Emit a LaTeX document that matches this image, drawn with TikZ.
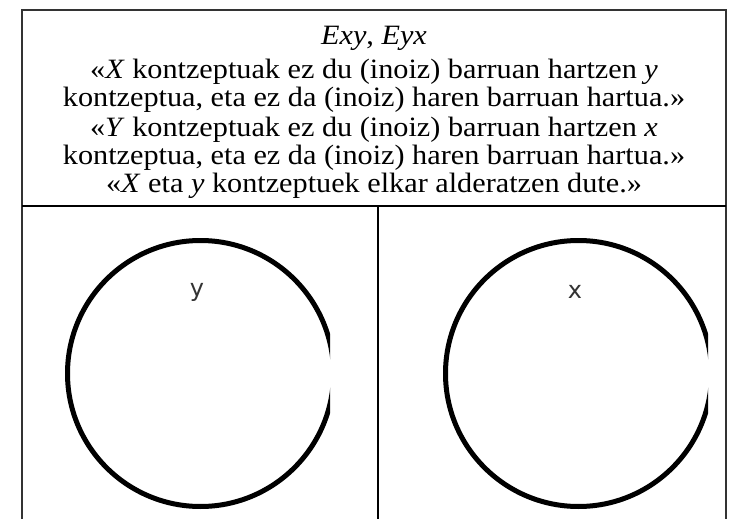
\documentclass[tikz,border=0pt]{standalone}
\usepackage{fontspec}
\setmainfont[FakeStretch=1.08]{Liberation Serif}
\newfontfamily\lblfont{DejaVu Sans}
\begin{document}
\begin{tikzpicture}[x=1pt,y=-1pt,
  frameline/.style={line width=2pt,draw=black!80},
  txt/.style={font=\fontsize{28}{30}\selectfont,anchor=base,inner sep=0pt},
  ring/.style={line width=5pt,draw=black},
  lbl/.style={font=\lblfont\fontsize{24}{26}\selectfont,text=black!80,inner sep=0pt}]
\useasboundingbox (0,0) rectangle (748,519);
% frame
\draw[frameline] (22,520) -- (22,10) -- (726,10) -- (726,520);
\draw[frameline,draw=black] (22,206) -- (726,206);
\draw[frameline,draw=black] (378,206) -- (378,520);
% texts
\node[txt] (t1) at (374,45) {\textit{Exy}, \textit{Eyx}};
\node[txt] (t2) at (374,79) {«\textit{X} kontzeptuak ez du (inoiz) barruan hartzen \textit{y}};
\node[txt] (t3) at (374,106.5) {kontzeptua, eta ez da (inoiz) haren barruan hartua.»};
\node[txt] (t4) at (374,136) {«\textit{Y} kontzeptuak ez du (inoiz) barruan hartzen \textit{x}};
\node[txt] (t5) at (374,164.5) {kontzeptua, eta ez da (inoiz) haren barruan hartua.»};
\node[txt] (t6) at (374,192) {«\textit{X} eta \textit{y} kontzeptuek elkar alderatzen dute.»};
% circles
\begin{scope}
  \clip (30,210) rectangle (330,519);
  \draw[ring] (200.5,373.5) circle (133);
\end{scope}
\node[lbl] (ly) at (197,292) {y};
\begin{scope}
  \clip (385,210) rectangle (708,519);
  \draw[ring] (578.5,373.5) circle (133);
\end{scope}
\node[lbl] (lx) at (575,292) {x};
\end{tikzpicture}
\end{document}
